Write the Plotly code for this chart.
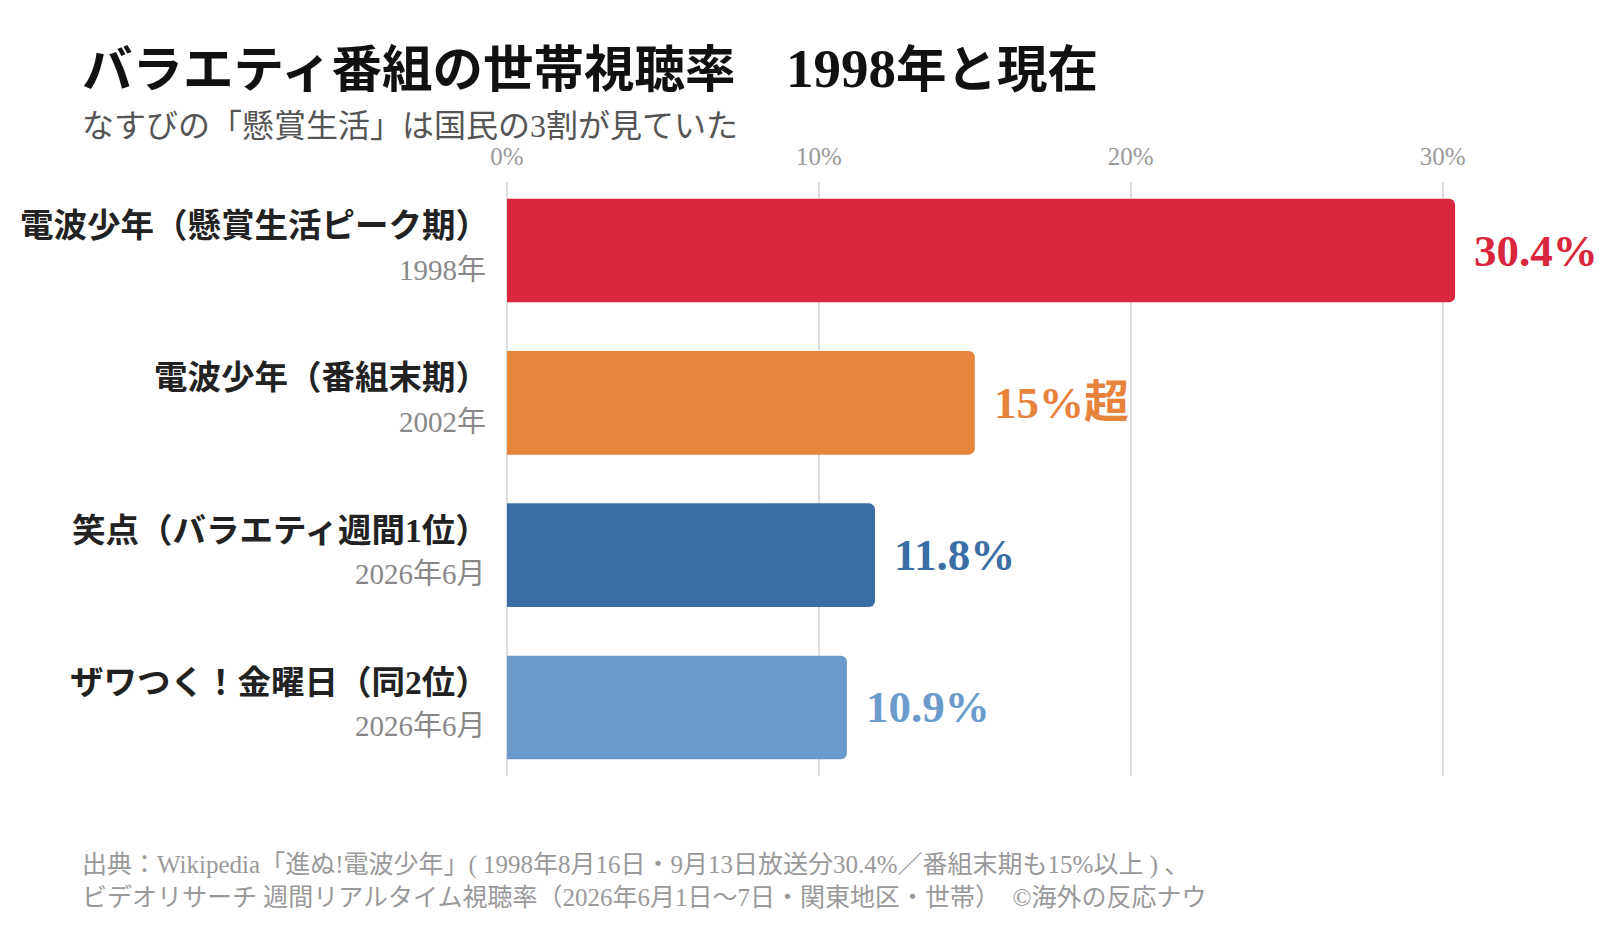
import plotly.graph_objects as go

categories = ["電波少年（懸賞生活ピーク期）", "電波少年（番組末期）", "笑点（バラエティ週間1位）", "ザワつく！金曜日（同2位）"]
periods = ["1998年", "2002年", "2026年6月", "2026年6月"]
values = [30.4, 15.0, 11.8, 10.9]
value_labels = ["30.4%", "15%超", "11.8%", "10.9%"]
colors = ["#D9263D", "#E8833C", "#3B6EA5", "#6B9BCB"]
tick_vals = [0, 10, 20, 30]
tick_text = ["0%", "10%", "20%", "30%"]

W, H = 1600, 933
L, R, T, B = 507, 42, 182, 157
FAM = "Liberation Serif, 'Noto Sans CJK JP', serif"

def px_x(px):
    return (px - L) / (W - L - R)

def px_y(py):
    return (H - B - py) / (H - T - B)

ypos = list(range(len(categories)))

fig = go.Figure()
fig.add_trace(go.Bar(
    x=values, y=ypos, orientation="h",
    marker=dict(color=colors, line=dict(width=0)),
    width=0.68, hoverinfo="skip", showlegend=False,
))

ann = []
for i, (c, p, v, lab, col) in enumerate(zip(categories, periods, values, value_labels, colors)):
    ann.append(dict(x=0, y=i, xref="x", yref="y", xanchor="right", yanchor="middle",
                    xshift=-16, yshift=25, text="<b>" + c + "</b>", showarrow=False,
                    font=dict(family=FAM, size=33.5, color="#222222")))
    ann.append(dict(x=0, y=i, xref="x", yref="y", xanchor="right", yanchor="middle",
                    xshift=-19, yshift=-19, text=p, showarrow=False,
                    font=dict(family=FAM, size=29, color="#888888")))
    ann.append(dict(x=v, y=i, xref="x", yref="y", xanchor="left", yanchor="middle",
                    xshift=17, yshift=0, text="<b>" + lab + "</b>", showarrow=False,
                    font=dict(family=FAM, size=45, color=col)))

ann.append(dict(x=px_x(80), y=px_y(68), xref="paper", yref="paper", xanchor="left", yanchor="middle",
                text="<b>バラエティ番組の世帯視聴率　<span style='font-size:55px'>1998</span>年と現在</b>",
                showarrow=False,
                font=dict(family=FAM, size=50.5, color="#111111")))
ann.append(dict(x=px_x(80), y=px_y(126), xref="paper", yref="paper", xanchor="left", yanchor="middle",
                text="なすびの「懸賞生活」は国民の3割が見ていた", showarrow=False,
                font=dict(family=FAM, size=32, color="#555555")))
ann.append(dict(x=px_x(80), y=px_y(881), xref="paper", yref="paper", xanchor="left", yanchor="middle",
                align="left",
                text="出典：Wikipedia「進ぬ!電波少年」( 1998年8月16日・9月13日放送分30.4%／番組末期も15%以上 ) 、<br>"
                     "ビデオリサーチ 週間リアルタイム視聴率（2026年6月1日〜7日・関東地区・世帯）　©海外の反応ナウ",
                showarrow=False,
                font=dict(family=FAM, size=25, color="#999999")))

fig.update_layout(
    width=W, height=H,
    margin=dict(l=L, r=R, t=T, b=B),
    paper_bgcolor="white", plot_bgcolor="white",
    barcornerradius=6,
    annotations=ann,
    xaxis=dict(range=[0, 33.7], side="top", tickvals=tick_vals, ticktext=tick_text,
               showgrid=True, gridcolor="#DDDDDD", gridwidth=2,
               zeroline=True, zerolinecolor="#DDDDDD", zerolinewidth=2,
               showline=False, ticks="", ticklabelstandoff=11,
               tickfont=dict(family=FAM, size=25, color="#999999")),
    yaxis=dict(range=[3.45, -0.45], showticklabels=False, showgrid=False,
               zeroline=False, showline=False, ticks=""),
)

fig.write_html("out.html")
